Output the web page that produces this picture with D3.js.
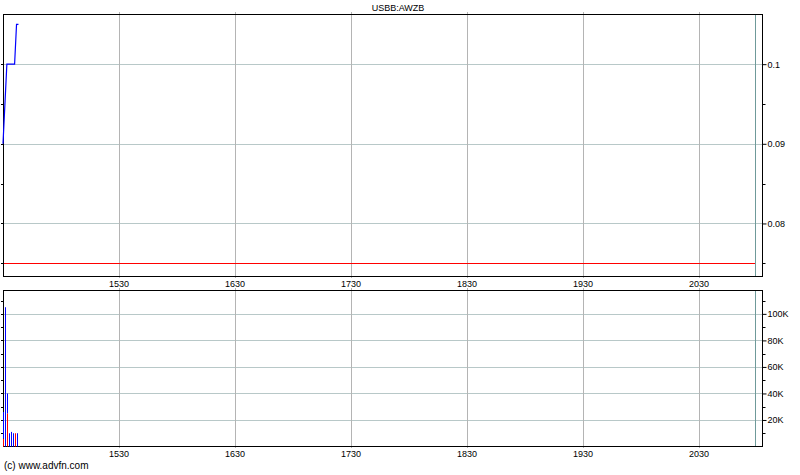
<!DOCTYPE html>
<html>
<head>
<meta charset="utf-8">
<script src="https://cdn.jsdelivr.net/npm/d3@7"></script>
<style>
  body { margin: 0; background: #fff; }
  text { font-family: "Liberation Sans", Arial, sans-serif; font-size: 9px; fill: #000; }
</style>
</head>
<body>
<div id="chart"></div>
<script>
// chart data
var title = "USBB:AWZB"
var priceTimes = ["14:30", "14:32", "14:36", "14:37", "14:38"]
var priceValues = [0.09, 0.10, 0.10, 0.105, 0.105]
var refPrice = 0.075
var volTimes = ["14:30", "14:31", "14:32", "14:33", "14:34", "14:35", "14:36", "14:37"]
var volUp = [20000, 105000, 15000, 10000, 11000, 10000, 0, 10000]
var volDown = [6000, 0, 25000, 0, 0, 0, 10000, 0]
var timeTicks = ["15:30", "16:30", "17:30", "18:30", "19:30", "20:30"]
var priceTicks = [0.08, 0.09, 0.1]
var priceMinor = [0.075, 0.085, 0.095]
var volTicks = [20000, 40000, 60000, 80000, 100000]
var volMinor = [10000, 30000, 50000, 70000, 90000, 110000]
var sessionEnd = "20:59"

var toMin = function(s) {
    var p = s.split(":")
    return +p[0] * 60 + +p[1]
}
var hhmm = function(m) { return d3.format("02")(Math.floor(m / 60)) + d3.format("02")(m % 60) }

var fullWidth = 800, fullHeight = 475
var left = 3, right = 762
var top1 = 14, bottom1 = 276
var top2 = 290, bottom2 = 446

var svg = d3.select("#chart").append("svg")
    .attr("width", fullWidth)
    .attr("height", fullHeight)

// x: minutes of the day, 116px per hour
var x = d3.scaleLinear()
    .domain([toMin("14:30"), toMin("21:00")])
    .range([left, 757])

var yPrice = d3.scaleLinear().domain([0.0734, 0.1063]).range([bottom1, top1])
var yVol = d3.scaleLinear().domain([0, 118000]).range([bottom2 + 0.5, top2])

var gridH = "#b8c8c8", gridV = "#b4b4b4"

function panel(y, y0, y1, major, minor, fmt) {
    var g = svg.append("g")
    // horizontal grid
    g.selectAll("line.hg").data(major).enter().append("line")
        .attr("x1", left).attr("x2", right)
        .attr("y1", function(d) { return Math.round(y(d)) + 0.5 })
        .attr("y2", function(d) { return Math.round(y(d)) + 0.5 })
        .attr("stroke", gridH)
    // vertical grid
    g.selectAll("line.vg").data(timeTicks).enter().append("line")
        .attr("x1", function(d) { return Math.round(x(toMin(d))) + 0.5 })
        .attr("x2", function(d) { return Math.round(x(toMin(d))) + 0.5 })
        .attr("y1", y0 - 2).attr("y2", y1 + 2)
        .attr("stroke", gridV)
    // session end line
    g.append("line")
        .attr("x1", Math.round(x(toMin(sessionEnd))) + 0.5)
        .attr("x2", Math.round(x(toMin(sessionEnd))) + 0.5)
        .attr("y1", y0).attr("y2", y1)
        .attr("stroke", "#6f9a9a")

    // right axis
    var ax = g.append("g").attr("transform", "translate(" + (right + 0.5) + ",0)")
    ax.call(d3.axisRight(y).tickValues(major).tickSize(4).tickPadding(1).tickFormat(fmt))
    ax.select(".domain").remove()
    ax.selectAll(".tick line").attr("stroke", "#000")
    ax.selectAll("text").style("font-size", "9px").style("font-family", "Liberation Sans, Arial, sans-serif")
    ax.selectAll("line.minor").data(minor).enter().append("line")
        .attr("x1", 0).attr("x2", 3)
        .attr("y1", function(d) { return Math.round(y(d)) + 0.5 })
        .attr("y2", function(d) { return Math.round(y(d)) + 0.5 })
        .attr("stroke", "#000")
    // left little ticks
    g.selectAll("line.lt").data(major.concat(minor)).enter().append("line")
        .attr("x1", left - 2).attr("x2", left)
        .attr("y1", function(d) { return Math.round(y(d)) + 0.5 })
        .attr("y2", function(d) { return Math.round(y(d)) + 0.5 })
        .attr("stroke", "#000")

    // frame
    g.append("rect")
        .attr("x", left + 0.5).attr("y", y0 + 0.5)
        .attr("width", right - left).attr("height", y1 - y0)
        .attr("fill", "none").attr("stroke", "#000")
    return g
}

var g1 = panel(yPrice, top1, bottom1, priceTicks, priceMinor, d3.format("~g"))
var g2 = panel(yVol, top2, bottom2, volTicks, volMinor, function(d) { return d / 1000 + "K" })

// reference price line
g1.append("line")
    .attr("x1", left + 1).attr("x2", Math.round(x(toMin(sessionEnd))))
    .attr("y1", Math.round(yPrice(refPrice)) + 0.5)
    .attr("y2", Math.round(yPrice(refPrice)) + 0.5)
    .attr("stroke", "#ff0000")

// price line
var line = d3.line()
    .x(function(d, i) { return x(toMin(priceTimes[i])) })
    .y(function(d) { return yPrice(d) })
g1.append("path")
    .datum(priceValues)
    .attr("d", line)
    .attr("fill", "none")
    .attr("stroke", "#0000ff")
    .attr("stroke-width", 1.2)

// volume bars: down (red) at bottom, up (blue) on top
var vol = volTimes.map(function(t, i) { return {t: toMin(t), up: volUp[i], down: volDown[i]} })
g2.selectAll("rect.down").data(vol.filter(function(d) { return d.down > 0 })).enter().append("rect")
    .attr("x", function(d) { return Math.round(x(d.t)) })
    .attr("width", 1)
    .attr("y", function(d) { return yVol(d.down) })
    .attr("height", function(d) { return yVol(0) - yVol(d.down) })
    .attr("fill", "#ff0000")
g2.selectAll("rect.up").data(vol.filter(function(d) { return d.up > 0 })).enter().append("rect")
    .attr("x", function(d) { return Math.round(x(d.t)) })
    .attr("width", 1)
    .attr("y", function(d) { return yVol(d.down + d.up) })
    .attr("height", function(d) { return yVol(d.down) - yVol(d.down + d.up) })
    .attr("fill", "#0000ff")

// time labels under each panel
svg.selectAll("text.t1").data(timeTicks).enter().append("text")
    .attr("x", function(d) { return x(toMin(d)) })
    .attr("y", bottom1 + 11)
    .attr("text-anchor", "middle")
    .text(function(d) { return hhmm(toMin(d)) })
svg.selectAll("text.t2").data(timeTicks).enter().append("text")
    .attr("x", function(d) { return x(toMin(d)) })
    .attr("y", bottom2 + 11)
    .attr("text-anchor", "middle")
    .text(function(d) { return hhmm(toMin(d)) })

svg.append("text")
    .attr("x", 398).attr("y", 11)
    .attr("text-anchor", "middle")
    .text(title)

svg.append("text")
    .attr("x", 4).attr("y", 469)
    .style("font-size", "10px")
    .text("(c) www.advfn.com")
</script>
</body>
</html>
